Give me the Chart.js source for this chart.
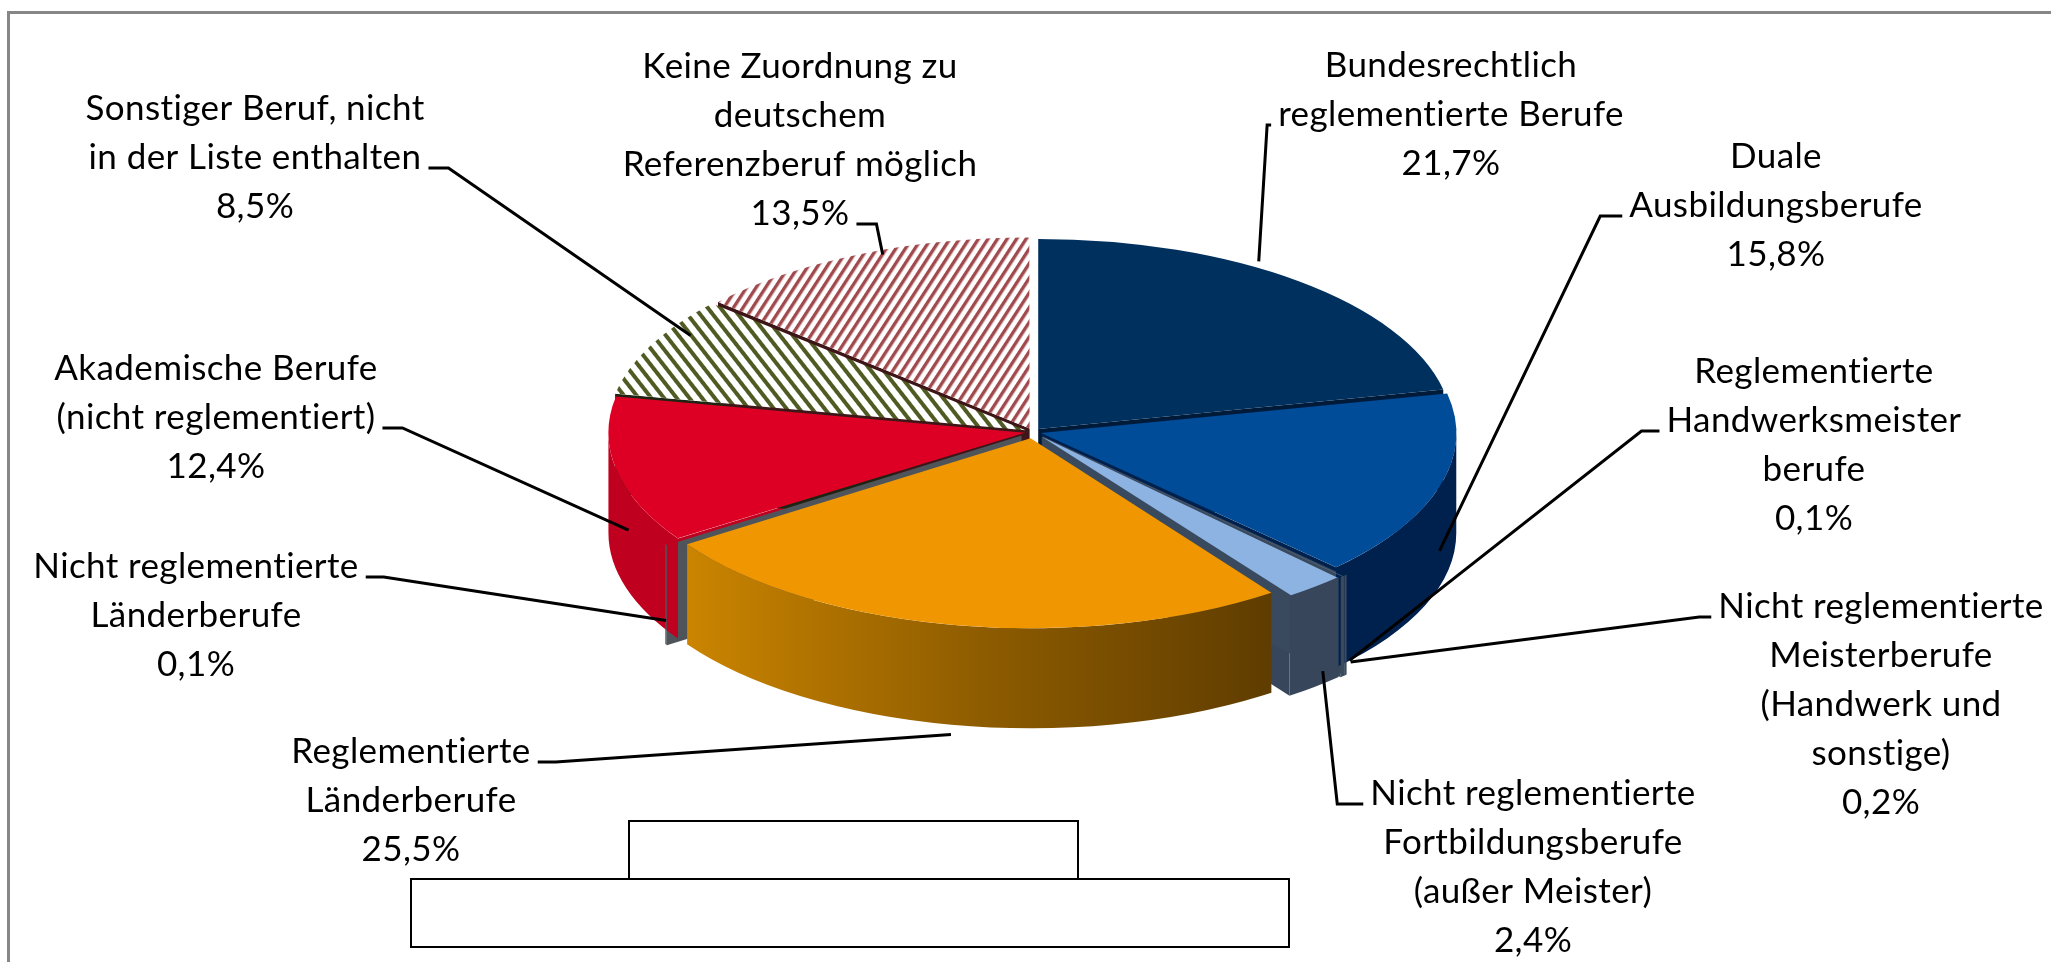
<!DOCTYPE html>
<html>
<head>
<meta charset="utf-8">
<script src="https://cdn.jsdelivr.net/npm/chart.js@4.4.1/dist/chart.umd.min.js"></script>
<style>
  html, body { margin: 0; padding: 0; background: #fff; overflow: hidden; }
  #wrap { position: relative; width: 2051px; height: 962px; }
</style>
</head>
<body>
<div id="wrap"><canvas id="chart"></canvas></div>
<script>
// Data
const categories = [
    'Bundesrechtlich reglementierte Berufe',
    'Duale Ausbildungsberufe',
    'Reglementierte Handwerksmeisterberufe',
    'Nicht reglementierte Meisterberufe (Handwerk und sonstige)',
    'Nicht reglementierte Fortbildungsberufe (außer Meister)',
    'Reglementierte Länderberufe',
    'Nicht reglementierte Länderberufe',
    'Akademische Berufe (nicht reglementiert)',
    'Sonstiger Beruf, nicht in der Liste enthalten',
    'Keine Zuordnung zu deutschem Referenzberuf möglich'
];
const shares = [21.7, 15.8, 0.1, 0.2, 2.4, 25.5, 0.1, 12.4, 8.5, 13.5];
const labelLines = [
    ['Bundesrechtlich', 'reglementierte Berufe'],
    ['Duale', 'Ausbildungsberufe'],
    ['Reglementierte', 'Handwerksmeister', 'berufe'],
    ['Nicht reglementierte', 'Meisterberufe', '(Handwerk und', 'sonstige)'],
    ['Nicht reglementierte', 'Fortbildungsberufe', '(außer Meister)'],
    ['Reglementierte', 'Länderberufe'],
    ['Nicht reglementierte', 'Länderberufe'],
    ['Akademische Berufe', '(nicht reglementiert)'],
    ['Sonstiger Beruf, nicht', 'in der Liste enthalten'],
    ['Keine Zuordnung zu', 'deutschem', 'Referenzberuf möglich']
];

// Layout / styles
const PIE = { cx: 1033, cy: 432, rx: 414, ry: 190, depth: 100 };
const LINE_H = 49;
// dx/dy nudge the leader end where the original placed it off the mid angle
const labelLayout = [
    { x: 1451, y: 77,  tickLine: 1, side: 'right', tick: 4,  dx: -40, dy: -20 },
    { x: 1776, y: 168, tickLine: 1, side: 'right', tick: 22, dx: 0,   dy: 0 },
    { x: 1814, y: 383, tickLine: 1, side: 'right', tick: 18, dx: 4,   dy: 0 },
    { x: 1881, y: 618, tickLine: 0, side: 'right', tick: 12, dx: 8,   dy: 0 },
    { x: 1533, y: 805, tickLine: 0, side: 'right', tick: 26, dx: 8,   dy: -4 },
    { x: 411,  y: 763, tickLine: 0, side: 'left',  tick: 18, dx: -6,  dy: 10 },
    { x: 196,  y: 578, tickLine: 0, side: 'left',  tick: 18, dx: 0,   dy: -2 },
    { x: 216,  y: 380, tickLine: 1, side: 'left',  tick: 20, dx: 12,  dy: 0 },
    { x: 255,  y: 120, tickLine: 1, side: 'left',  tick: 20, dx: 40,  dy: -10 },
    { x: 800,  y: 78,  tickLine: 3, side: 'left',  tick: 20, dx: 24,  dy: 0 }
];
const explode = [36, 36, 60, 60, 60, 60, 60, 36, 36, 36];

function stripes(color, period, width, angle) {
    const c = document.createElement('canvas');
    c.width = period; c.height = 8;
    const g = c.getContext('2d');
    g.fillStyle = '#fff';
    g.fillRect(0, 0, period, 8);
    g.fillStyle = color;
    g.fillRect(0, 0, width, 8);
    const p = g.createPattern(c, 'repeat');
    p.angle = angle;
    return p;
}
const oliveHatch = stripes('#4F5B22', 10, 4, -38);
const redHatch = stripes('#A04A4E', 8.5, 3.4, 33);

const topColors = ['#00305E', '#004C99', '#5B6E86', '#5B6E86', '#8DB3E2', '#F09600', '#55595F', '#DE0024', oliveHatch, redHatch];
const sideColors = ['#001A3A', '#00214D', '#3A4A5E', '#3A4A5E', '#37465A', '#8A5A00', '#4F545B', '#C0001F', '#1F2312', '#3E1618'];

function fmtPct(v) {
    return v.toFixed(1).replace('.', ',') + '%';
}

// screen geometry of a slice (after squash + explode)
function sliceGeom(meta, i) {
    const base = meta.data[0];
    const arc = meta.data[i];
    const sx = PIE.rx / base.outerRadius, sy = PIE.ry / base.outerRadius;
    const d = (arc.options.offset || 0) / 4;
    const circ = arc.endAngle - arc.startAngle;
    const fix = 1 - Math.sin(Math.min(Math.PI, circ));
    const h = (arc.startAngle + arc.endAngle) / 2;
    const R = arc.outerRadius + d * fix;
    return {
        X: PIE.cx + Math.cos(h) * d * sx,
        Y: PIE.cy + Math.sin(h) * d * sy,
        RX: R * sx, RY: R * sy,
        a0: arc.startAngle, a1: arc.endAngle, h
    };
}

function anchorPoint(g) {
    const c = Math.cos(g.h), s = Math.sin(g.h);
    let x = g.X + g.RX * c, y = g.Y + g.RY * s;
    if (s > 0) y += PIE.depth * (0.5 + 0.5 * s);
    return { x, y };
}

const pie3d = {
    id: 'pie3d',
    beforeDatasetsDraw(chart) {
        const ctx = chart.ctx;
        const meta = chart.getDatasetMeta(0);
        const base = meta.data[0];
        const geoms = meta.data.map((a, i) => sliceGeom(meta, i));

        // cut faces that look towards the viewer
        const faces = [];
        geoms.forEach((g, i) => {
            if (Math.cos(g.a1) > 0.001) faces.push({ g, a: g.a1, i });
            if (Math.cos(g.a0) < -0.001) faces.push({ g, a: g.a0, i });
        });
        faces.sort((p, q) => (shares[p.i] < 1 ? 1 : 0) - (shares[q.i] < 1 ? 1 : 0));
        faces.forEach(f => {
            const { g, a } = f;
            const ex = g.X + g.RX * Math.cos(a), ey = g.Y + g.RY * Math.sin(a);
            ctx.beginPath();
            ctx.moveTo(g.X, g.Y);
            ctx.lineTo(ex, ey);
            ctx.lineTo(ex, ey + PIE.depth);
            ctx.lineTo(g.X, g.Y + PIE.depth);
            ctx.closePath();
            ctx.fillStyle = sideColors[f.i];
            ctx.fill();
        });

        // outer walls, front half only
        const walls = [];
        geoms.forEach((g, i) => {
            const a0 = Math.max(g.a0, 0), a1 = Math.min(g.a1, Math.PI);
            if (a1 > a0) walls.push({ g, a0, a1, i, my: g.Y + g.RY * Math.sin((a0 + a1) / 2) });
        });
        walls.sort((p, q) => p.my - q.my);
        walls.forEach(w => {
            const { g } = w;
            ctx.beginPath();
            ctx.ellipse(g.X, g.Y, g.RX, g.RY, 0, w.a0, w.a1);
            ctx.ellipse(g.X, g.Y + PIE.depth, g.RX, g.RY, 0, w.a1, w.a0, true);
            ctx.closePath();
            if (w.i === 5) {
                const grad = ctx.createLinearGradient(PIE.cx - PIE.rx * 0.9, 0, PIE.cx + PIE.rx * 0.65, 0);
                grad.addColorStop(0, '#D08800');
                grad.addColorStop(0.5, '#8E5C00');
                grad.addColorStop(1, '#5A3900');
                ctx.fillStyle = grad;
            } else {
                ctx.fillStyle = sideColors[w.i];
            }
            ctx.fill();
        });

        // squash the library's circle into the top ellipse
        const sx = PIE.rx / base.outerRadius, sy = PIE.ry / base.outerRadius;
        [oliveHatch, redHatch].forEach(p => {
            p.setTransform(new DOMMatrix().scale(1 / sx, 1 / sy).rotate(p.angle));
        });
        ctx.save();
        ctx.translate(PIE.cx, PIE.cy);
        ctx.scale(sx, sy);
        ctx.translate(-base.x, -base.y);
    },
    afterDatasetsDraw(chart) {
        chart.ctx.restore();
    },
    afterDraw(chart) {
        const ctx = chart.ctx;
        const meta = chart.getDatasetMeta(0);
        ctx.save();

        // frame
        ctx.strokeStyle = '#878787';
        ctx.lineWidth = 3;
        ctx.beginPath();
        ctx.moveTo(8.5, 962);
        ctx.lineTo(8.5, 12.5);
        ctx.lineTo(2051, 12.5);
        ctx.stroke();

        // empty boxes below the pie
        ctx.strokeStyle = '#000';
        ctx.lineWidth = 2;
        ctx.fillStyle = '#fff';
        ctx.fillRect(629, 821, 449, 58);
        ctx.strokeRect(629, 821, 449, 58);
        ctx.fillRect(411, 879, 878, 68);
        ctx.strokeRect(411, 879, 878, 68);

        // labels with leader lines
        ctx.font = '35px Lato';
        ctx.letterSpacing = '0.4px';
        ctx.textAlign = 'center';
        ctx.textBaseline = 'alphabetic';
        ctx.lineWidth = 3;
        ctx.lineJoin = 'miter';
        labelLines.forEach((lines, i) => {
            const L = labelLayout[i];
            const all = lines.concat([fmtPct(shares[i])]);
            ctx.fillStyle = '#000';
            all.forEach((t, k) => ctx.fillText(t, L.x, L.y + k * LINE_H));
            const w = ctx.measureText(all[L.tickLine]).width;
            const ty = L.y + L.tickLine * LINE_H - 1;
            let x1, x2;
            if (L.side === 'left') { x1 = L.x + w / 2 + 7; x2 = x1 + L.tick; }
            else { x1 = L.x - w / 2 - 7; x2 = x1 - L.tick; }
            const p = anchorPoint(sliceGeom(meta, i));
            ctx.beginPath();
            ctx.moveTo(x1, ty);
            ctx.lineTo(x2, ty);
            ctx.lineTo(p.x + L.dx, p.y + L.dy);
            ctx.stroke();
        });
        ctx.restore();
    }
};

new Chart(document.getElementById('chart'), {
    type: 'pie',
    data: {
        labels: categories,
        datasets: [{
            data: shares,
            backgroundColor: topColors,
            borderWidth: 0,
            offset: explode,
            clip: false
        }]
    },
    options: {
        responsive: true,
        maintainAspectRatio: false,
        animation: false,
        events: [],
        plugins: {
            legend: { display: false },
            tooltip: { enabled: false }
        }
    },
    plugins: [pie3d]
});
</script>
</body>
</html>
